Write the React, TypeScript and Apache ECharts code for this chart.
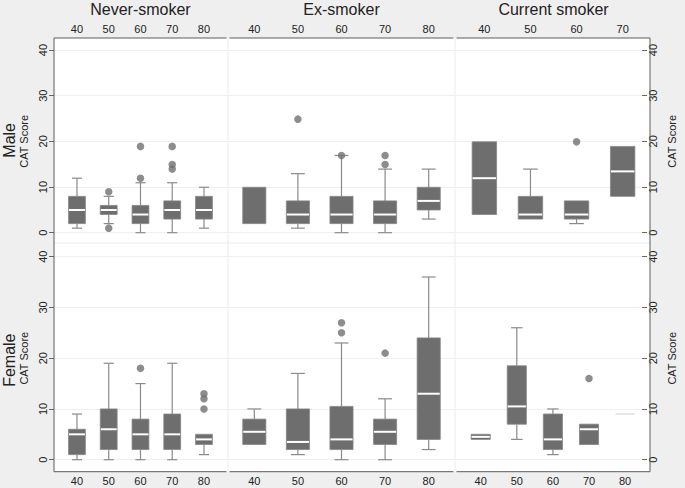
import React, { useEffect, useRef } from 'react';
import * as echarts from 'echarts';

// ---------- data ----------
const AGE_CATS = ['40', '50', '60', '70', '80'];
const AGE_CATS_MALE_CURRENT = ['40', '50', '60', '70'];
const SMOKING_GROUPS = ['Never-smoker', 'Ex-smoker', 'Current smoker'];
const SEXES = ['Male', 'Female'];
const Y_AXIS_NAME = 'CAT Score';

// box stats per age group: [lower adjacent, q1, median, q3, upper adjacent]
const maleNever = [[1, 2, 5, 8, 12], [2, 4, 5, 6, 8], [0, 2, 4, 6, 11], [0, 3, 5, 7, 11], [1, 3, 5, 8, 10]];
const maleNeverOut = [[1, 9], [1, 1], [2, 12], [2, 19], [3, 14], [3, 15], [3, 19]];
const maleEx = [[2, 2, 2, 10, 10], [1, 2, 4, 7, 13], [0, 2, 4, 8, 17], [0, 2, 4, 7, 14], [3, 5, 7, 10, 14]];
const maleExOut = [[1, 25], [2, 17], [3, 15], [3, 17]];
const maleCurrent = [[4, 4, 12, 20, 20], [3, 3, 4, 8, 14], [2, 3, 4, 7, 7], [8, 8, 13.5, 19, 19]];
const maleCurrentOut = [[2, 20]];

const femaleNever = [[0, 1, 5, 6, 9], [0, 2, 6, 10, 19], [0, 2, 5, 8, 15], [0, 2, 5, 9, 19], [1, 3, 4, 5, 5]];
const femaleNeverOut = [[2, 18], [4, 10], [4, 12], [4, 13]];
const femaleEx = [[3, 3, 5.5, 8, 10], [1, 2, 3.5, 10, 17], [0, 2, 4, 10.5, 23], [0, 3, 5.5, 8, 12], [2, 4, 13, 24, 36]];
const femaleExOut = [[2, 25], [2, 27], [3, 21]];
const femaleCurrent = [[4, 4, 4.5, 5, 5], [4, 7, 10.5, 18.5, 26], [1, 2, 4, 9, 10], [3, 3, 6, 7, 7], [9, 9, 9, 9, 9]];
const femaleCurrentOut = [[3, 16]];

// ---------- layout ----------
const FONT = '"Liberation Sans", Arial, Helvetica, sans-serif';
const PLOT_L = 54;
const PLOT_R = 650;
const PLOT_T = 38;
const PLOT_B = 471.7;
const ROW_SPLIT = 243;
const SEP_X = [228, 455];
const ROWS = [
  { top: 50, height: 182.7 },
  { top: 256.7, height: 203 },
];
// column grids [row][col] : left, width
const COLS = [
  [{ left: 61.1, width: 158.75 }, { left: 232.5, width: 218 }, { left: 461.3, width: 184.4 }],
  [{ left: 61.1, width: 158.75 }, { left: 232.5, width: 218 }, { left: 462.65, width: 180.5 }],
];

const BOX_FILL = '#6e6e6e';
const WHISKER = '#8a8a8a';

const renderBox = (_params: any, api: any) => {
  const i = api.value(0);
  const lo = api.coord([i, api.value(1)]);
  const cx = lo[0];
  const yLo = lo[1];
  const yQ1 = api.coord([i, api.value(2)])[1];
  const yMed = api.coord([i, api.value(3)])[1];
  const yQ3 = api.coord([i, api.value(4)])[1];
  const yHi = api.coord([i, api.value(5)])[1];
  const band = api.size([1, 0])[0];
  const bw = band * 0.53;
  const cw = bw * 0.6;
  const ws = { stroke: WHISKER, lineWidth: 1.2 };
  const children: any[] = [];
  if (yQ3 - yHi > 0.5) {
    children.push({ type: 'line', shape: { x1: cx, y1: yQ3, x2: cx, y2: yHi }, style: ws });
    children.push({ type: 'line', shape: { x1: cx - cw / 2, y1: yHi, x2: cx + cw / 2, y2: yHi }, style: ws });
  }
  if (yLo - yQ1 > 0.5) {
    children.push({ type: 'line', shape: { x1: cx, y1: yQ1, x2: cx, y2: yLo }, style: ws });
    children.push({ type: 'line', shape: { x1: cx - cw / 2, y1: yLo, x2: cx + cw / 2, y2: yLo }, style: ws });
  }
  if (yQ1 - yQ3 > 0.5) {
    children.push({
      type: 'rect',
      shape: { x: cx - bw / 2, y: yQ3, width: bw, height: yQ1 - yQ3 },
      style: { fill: BOX_FILL, stroke: '#858585', lineWidth: 0.8 },
    });
    if (yMed < yQ1 - 0.5 && yMed > yQ3 + 0.5) {
      children.push({
        type: 'line',
        shape: { x1: cx - bw / 2 + 0.5, y1: yMed, x2: cx + bw / 2 - 0.5, y2: yMed },
        style: { stroke: '#ffffff', lineWidth: 2 },
      });
    }
  } else {
    children.push({
      type: 'line',
      shape: { x1: cx - bw / 2, y1: yMed, x2: cx + bw / 2, y2: yMed },
      style: { stroke: '#e0e0e0', lineWidth: 1.5 },
    });
  }
  return { type: 'group', children };
};

export default function App() {
  const ref = useRef<HTMLDivElement>(null);

  useEffect(() => {
    if (!ref.current) return;
    const chart = echarts.init(ref.current, undefined, { renderer: 'svg' });

    const panels = [
      [
        { cats: AGE_CATS, stats: maleNever, out: maleNeverOut },
        { cats: AGE_CATS, stats: maleEx, out: maleExOut },
        { cats: AGE_CATS_MALE_CURRENT, stats: maleCurrent, out: maleCurrentOut },
      ],
      [
        { cats: AGE_CATS, stats: femaleNever, out: femaleNeverOut },
        { cats: AGE_CATS, stats: femaleEx, out: femaleExOut },
        { cats: AGE_CATS, stats: femaleCurrent, out: femaleCurrentOut },
      ],
    ];

    const grids: any[] = [];
    const xAxes: any[] = [];
    const yAxes: any[] = [];
    const series: any[] = [];

    const labelStyle = { fontFamily: FONT, fontSize: 11, color: '#222' };

    // full-row grids holding the y axes, ticks and gridlines
    ROWS.forEach((r, ri) => {
      grids.push({ left: PLOT_L, width: PLOT_R - PLOT_L, top: r.top, height: r.height });
      xAxes.push({ type: 'value', gridIndex: ri, min: 0, max: 1, show: false });
      yAxes.push({
        type: 'value', gridIndex: ri, position: 'left', min: 0, max: 40, interval: 10,
        axisLine: { show: false },
        axisTick: { show: true, length: 5, lineStyle: { color: '#666', width: 1 } },
        axisLabel: { ...labelStyle, rotate: 90, margin: 6 },
        splitLine: { show: true, lineStyle: { color: '#efefef', width: 1 } },
        name: Y_AXIS_NAME, nameLocation: 'middle', nameRotate: 90, nameGap: 19,
        nameTextStyle: { fontFamily: FONT, fontSize: 11, color: '#222' },
      });
      yAxes.push({
        type: 'value', gridIndex: ri, position: 'right', min: 0, max: 40, interval: 10,
        axisLine: { show: false },
        axisTick: { show: true, length: 5, lineStyle: { color: '#666', width: 1 } },
        axisLabel: { ...labelStyle, rotate: 90, margin: 5 },
        splitLine: { show: false },
        name: Y_AXIS_NAME, nameLocation: 'middle', nameRotate: 90, nameGap: 20,
        nameTextStyle: { fontFamily: FONT, fontSize: 11, color: '#222' },
      });
    });

    // column grids holding the boxes
    panels.forEach((row, ri) => {
      row.forEach((p, ci) => {
        const gi = grids.length;
        grids.push({ left: COLS[ri][ci].left, width: COLS[ri][ci].width, top: ROWS[ri].top, height: ROWS[ri].height });
        xAxes.push({
          type: 'category', gridIndex: gi, data: p.cats,
          position: ri === 0 ? 'top' : 'bottom',
          axisLine: { show: false }, axisTick: { show: false },
          axisLabel: { ...labelStyle, margin: ri === 0 ? 17 : 16 },
          splitLine: { show: false },
          name: ri === 0 ? SMOKING_GROUPS[ci] : '',
          nameLocation: 'middle', nameGap: 34,
          nameTextStyle: { fontFamily: FONT, fontSize: 16, color: '#222' },
        });
        const yi = yAxes.length;
        yAxes.push({ type: 'value', gridIndex: gi, min: 0, max: 40, show: false, splitLine: { show: false } });
        series.push({
          type: 'custom',
          xAxisIndex: gi, yAxisIndex: yi,
          renderItem: renderBox,
          encode: { x: 0, y: [1, 2, 3, 4, 5] },
          data: p.stats.map((s, i) => [i, ...s]),
          silent: true,
          z: 3,
        });
        series.push({
          type: 'scatter',
          xAxisIndex: gi, yAxisIndex: yi,
          data: p.out,
          symbol: 'circle', symbolSize: 7.5,
          itemStyle: { color: '#707070' },
          silent: true,
          z: 4,
        });
      });
    });

    const frameColor = '#5c5c5c';
    const sepColor = '#ebebeb';
    const line = (x1: number, y1: number, x2: number, y2: number, stroke: string, z = 1) => ({
      type: 'line', shape: { x1, y1, x2, y2 }, style: { stroke, lineWidth: 1 }, z, silent: true,
    });
    const gap = 1.5;
    const hSegs = [PLOT_L, SEP_X[0] - gap, SEP_X[0] + gap, SEP_X[1] - gap, SEP_X[1] + gap, PLOT_R];

    const graphic: any[] = [
      {
        type: 'rect', shape: { x: PLOT_L, y: PLOT_T, width: PLOT_R - PLOT_L, height: PLOT_B - PLOT_T },
        style: { fill: '#ffffff' }, z: -10, silent: true,
      },
      line(PLOT_L, ROW_SPLIT, PLOT_R, ROW_SPLIT, sepColor, -5),
      line(SEP_X[0], PLOT_T, SEP_X[0], PLOT_B, sepColor, -5),
      line(SEP_X[1], PLOT_T, SEP_X[1], PLOT_B, sepColor, -5),
      line(PLOT_L, PLOT_T, PLOT_L, PLOT_B, frameColor, 5),
      line(PLOT_R, PLOT_T, PLOT_R, PLOT_B, frameColor, 5),
      line(hSegs[0], PLOT_T, hSegs[1], PLOT_T, frameColor, 5),
      line(hSegs[2], PLOT_T, hSegs[3], PLOT_T, frameColor, 5),
      line(hSegs[4], PLOT_T, hSegs[5], PLOT_T, frameColor, 5),
      line(hSegs[0], PLOT_B, hSegs[1], PLOT_B, frameColor, 5),
      line(hSegs[2], PLOT_B, hSegs[3], PLOT_B, frameColor, 5),
      line(hSegs[4], PLOT_B, hSegs[5], PLOT_B, frameColor, 5),
      ...SEXES.map((s, ri) => ({
        type: 'text',
        x: 9,
        y: ROWS[ri].top + ROWS[ri].height / 2 - (ri === 0 ? 1 : -2),
        rotation: Math.PI / 2,
        style: { text: s, fontFamily: FONT, fontSize: 16, fill: '#222', align: 'center', verticalAlign: 'middle' },
        silent: true,
      })),
    ];

    chart.setOption({
      animation: false,
      backgroundColor: 'transparent',
      grid: grids,
      xAxis: xAxes,
      yAxis: yAxes,
      series,
      graphic,
    });

    return () => chart.dispose();
  }, []);

  return (
    <div
      style={{ position: 'fixed', left: 0, top: 0, width: 685, height: 488, background: '#efefef' }}
    >
      <div ref={ref} style={{ width: 685, height: 488 }} />
    </div>
  );
}
